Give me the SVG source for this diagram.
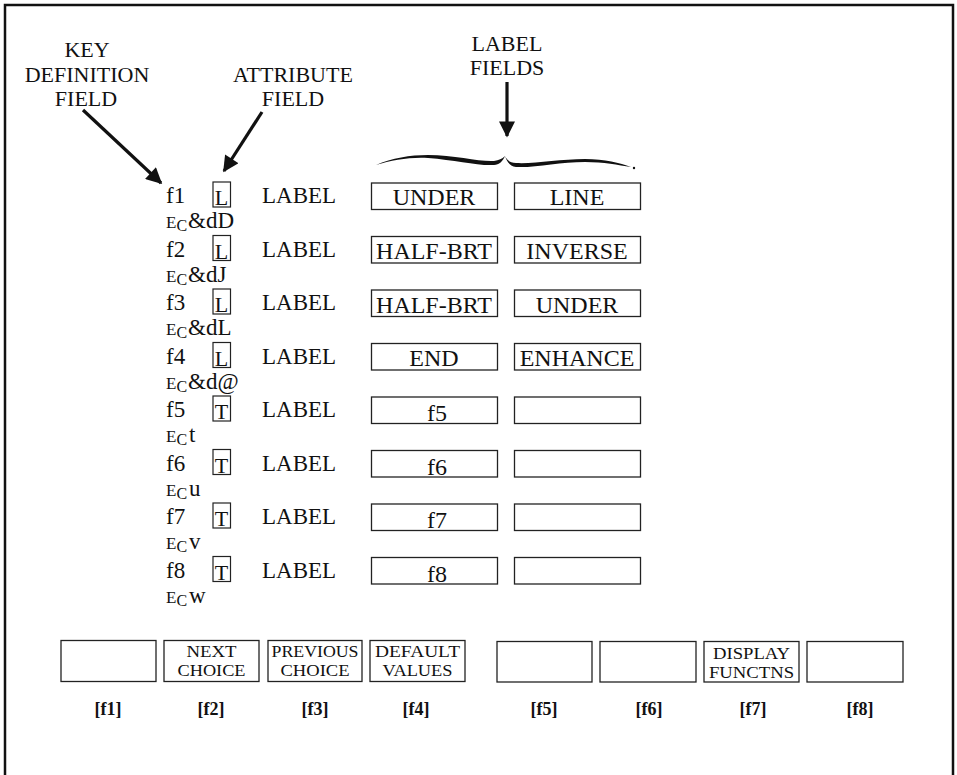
<svg xmlns="http://www.w3.org/2000/svg" width="957" height="775" viewBox="0 0 957 775">
<defs>
<style>
text{font-family:"Liberation Serif","Times New Roman",serif;fill:#111}
.h{font-size:22px;text-anchor:middle}
.r{font-size:23px}
.bt{font-size:24px;text-anchor:middle}
.at{font-size:22px;text-anchor:middle}
.kb{font-size:16px;text-anchor:middle}
.fk{font-size:18px;font-weight:bold;text-anchor:middle}
.box{fill:none;stroke:#222;stroke-width:1.3}
.ab{fill:none;stroke:#222;stroke-width:1.2}
.arr{stroke:#111;stroke-width:3.2;fill:none;marker-end:url(#ah)}
</style>
<marker id="ah" viewBox="0 0 10 10" refX="9" refY="5" markerWidth="6.5" markerHeight="5" orient="auto" markerUnits="strokeWidth">
<path d="M0,0 L10,5 L0,10 Z" fill="#111"/>
</marker>
</defs>
<path d="M5,780 L5,5 L953,5 L953,780" fill="none" stroke="#111" stroke-width="2.5"/>

<g id="titles">
<text class="h" x="87" y="57">KEY</text>
<text class="h" x="87" y="82">DEFINITION</text>
<text class="h" x="86" y="106">FIELD</text>
<text class="h" x="293" y="82">ATTRIBUTE</text>
<text class="h" x="293" y="106">FIELD</text>
<text class="h" x="507" y="51">LABEL</text>
<text class="h" x="507" y="75">FIELDS</text>
</g>

<g id="connectors">
<line class="arr" x1="83" y1="110" x2="161" y2="183"/>
<line class="arr" x1="262" y1="112" x2="224" y2="171"/>
<line class="arr" x1="507" y1="82" x2="507" y2="136"/>
<path d="M376,165 C392,158 410,155 428,155 C455,155 480,162 494,161 C499,160 502,159 505,156 C503,161 499,165 494,165 C478,166 455,160 428,158 C410,157 392,160 376,165 Z" fill="#111"/>
<path d="M505,156 C507,160 510,163 516,163 C535,164 560,159 585,159 C605,159 620,163 631,167 C618,165 604,162 585,162 C560,162 535,168 516,167 C510,166 507,162 505,156 Z" fill="#111"/>
<circle cx="634" cy="168" r="1.2" fill="#111"/>
</g>

<g id="row1">
<text class="r" x="166" y="203">f1</text>
<rect class="ab" x="213" y="182" width="17.5" height="25"/><text class="at" x="221.5" y="205">L</text>
<text class="r" x="262" y="203">LABEL</text>
<rect class="box" x="371.5" y="183" width="126" height="26.5"/><text class="bt" x="434" y="205">UNDER</text>
<rect class="box" x="514.5" y="183" width="126" height="26.5"/><text class="bt" x="577" y="205">LINE</text>
<text x="166" y="228"><tspan font-size="17">E</tspan><tspan font-size="16" dy="3">C</tspan><tspan font-size="23" dy="-3" dx="1">&amp;dD</tspan></text>
</g>
<g id="row2">
<text class="r" x="166" y="256.5">f2</text>
<rect class="ab" x="213" y="235.5" width="17.5" height="25"/><text class="at" x="221.5" y="258.5">L</text>
<text class="r" x="262" y="256.5">LABEL</text>
<rect class="box" x="371.5" y="236.5" width="126" height="26.5"/><text class="bt" x="434" y="259">HALF-BRT</text>
<rect class="box" x="514.5" y="236.5" width="126" height="26.5"/><text class="bt" x="577" y="259">INVERSE</text>
<text x="166" y="281.5"><tspan font-size="17">E</tspan><tspan font-size="16" dy="3">C</tspan><tspan font-size="23" dy="-3" dx="1">&amp;dJ</tspan></text>
</g>
<g id="row3">
<text class="r" x="166" y="310">f3</text>
<rect class="ab" x="213" y="289" width="17.5" height="25"/><text class="at" x="221.5" y="312">L</text>
<text class="r" x="262" y="310">LABEL</text>
<rect class="box" x="371.5" y="290" width="126" height="26.5"/><text class="bt" x="434" y="312.5">HALF-BRT</text>
<rect class="box" x="514.5" y="290" width="126" height="26.5"/><text class="bt" x="577" y="312.5">UNDER</text>
<text x="166" y="335"><tspan font-size="17">E</tspan><tspan font-size="16" dy="3">C</tspan><tspan font-size="23" dy="-3" dx="1">&amp;dL</tspan></text>
</g>
<g id="row4">
<text class="r" x="166" y="363.5">f4</text>
<rect class="ab" x="213" y="342.5" width="17.5" height="25"/><text class="at" x="221.5" y="365.5">L</text>
<text class="r" x="262" y="363.5">LABEL</text>
<rect class="box" x="371.5" y="343.5" width="126" height="26.5"/><text class="bt" x="434" y="366">END</text>
<rect class="box" x="514.5" y="343.5" width="126" height="26.5"/><text class="bt" x="577" y="366">ENHANCE</text>
<text x="166" y="388.5"><tspan font-size="17">E</tspan><tspan font-size="16" dy="3">C</tspan><tspan font-size="23" dy="-3" dx="1">&amp;d@</tspan></text>
</g>
<g id="row5">
<text class="r" x="166" y="417">f5</text>
<rect class="ab" x="213" y="396" width="17.5" height="25"/><text class="at" x="221.5" y="419">T</text>
<text class="r" x="262" y="417">LABEL</text>
<rect class="box" x="371.5" y="397" width="126" height="26.5"/><text class="bt" x="437" y="421">f5</text>
<rect class="box" x="514.5" y="397" width="126" height="26.5"/>
<text x="166" y="442"><tspan font-size="17">E</tspan><tspan font-size="16" dy="3">C</tspan><tspan font-size="23" dy="-3" dx="2">t</tspan></text>
</g>
<g id="row6">
<text class="r" x="166" y="470.5">f6</text>
<rect class="ab" x="213" y="449.5" width="17.5" height="25"/><text class="at" x="221.5" y="472.5">T</text>
<text class="r" x="262" y="470.5">LABEL</text>
<rect class="box" x="371.5" y="450.5" width="126" height="26.5"/><text class="bt" x="437" y="474.5">f6</text>
<rect class="box" x="514.5" y="450.5" width="126" height="26.5"/>
<text x="166" y="495.5"><tspan font-size="17">E</tspan><tspan font-size="16" dy="3">C</tspan><tspan font-size="23" dy="-3" dx="2">u</tspan></text>
</g>
<g id="row7">
<text class="r" x="166" y="524">f7</text>
<rect class="ab" x="213" y="503" width="17.5" height="25"/><text class="at" x="221.5" y="526">T</text>
<text class="r" x="262" y="524">LABEL</text>
<rect class="box" x="371.5" y="504" width="126" height="26.5"/><text class="bt" x="437" y="528">f7</text>
<rect class="box" x="514.5" y="504" width="126" height="26.5"/>
<text x="166" y="549"><tspan font-size="17">E</tspan><tspan font-size="16" dy="3">C</tspan><tspan font-size="23" dy="-3" dx="2">v</tspan></text>
</g>
<g id="row8">
<text class="r" x="166" y="577.5">f8</text>
<rect class="ab" x="213" y="556.5" width="17.5" height="25"/><text class="at" x="221.5" y="579.5">T</text>
<text class="r" x="262" y="577.5">LABEL</text>
<rect class="box" x="371.5" y="557.5" width="126" height="26.5"/><text class="bt" x="437" y="581.5">f8</text>
<rect class="box" x="514.5" y="557.5" width="126" height="26.5"/>
<text x="166" y="602.5"><tspan font-size="17">E</tspan><tspan font-size="16" dy="3">C</tspan><tspan font-size="23" dy="-3" dx="2">w</tspan></text>
</g>

<g id="key1"><rect class="box" x="61" y="640.5" width="95" height="41"/><text class="fk" x="108" y="715">[f1]</text></g>
<g id="key2"><rect class="box" x="164" y="640.5" width="95" height="41"/><text class="kb" x="211.5" y="657" textLength="50" lengthAdjust="spacingAndGlyphs">NEXT</text><text class="kb" x="211.5" y="675.5" textLength="68" lengthAdjust="spacingAndGlyphs">CHOICE</text><text class="fk" x="211" y="715">[f2]</text></g>
<g id="key3"><rect class="box" x="268" y="640.5" width="94" height="41"/><text class="kb" x="315" y="657" textLength="87" lengthAdjust="spacingAndGlyphs">PREVIOUS</text><text class="kb" x="315" y="675.5" textLength="69" lengthAdjust="spacingAndGlyphs">CHOICE</text><text class="fk" x="315" y="715">[f3]</text></g>
<g id="key4"><rect class="box" x="370" y="640.5" width="95" height="41"/><text class="kb" x="417.5" y="657" textLength="85" lengthAdjust="spacingAndGlyphs">DEFAULT</text><text class="kb" x="417.5" y="675.5" textLength="70" lengthAdjust="spacingAndGlyphs">VALUES</text><text class="fk" x="416" y="715">[f4]</text></g>
<g id="key5"><rect class="box" x="497" y="641.5" width="95" height="40.5"/><text class="fk" x="544" y="715">[f5]</text></g>
<g id="key6"><rect class="box" x="600" y="641.5" width="96" height="40.5"/><text class="fk" x="649" y="715">[f6]</text></g>
<g id="key7"><rect class="box" x="704" y="641.5" width="95" height="40.5"/><text class="kb" x="751.5" y="659" textLength="77" lengthAdjust="spacingAndGlyphs">DISPLAY</text><text class="kb" x="751.5" y="677.5" textLength="85" lengthAdjust="spacingAndGlyphs">FUNCTNS</text><text class="fk" x="753" y="715">[f7]</text></g>
<g id="key8"><rect class="box" x="807" y="641.5" width="96" height="40.5"/><text class="fk" x="860" y="715">[f8]</text></g>
</svg>
